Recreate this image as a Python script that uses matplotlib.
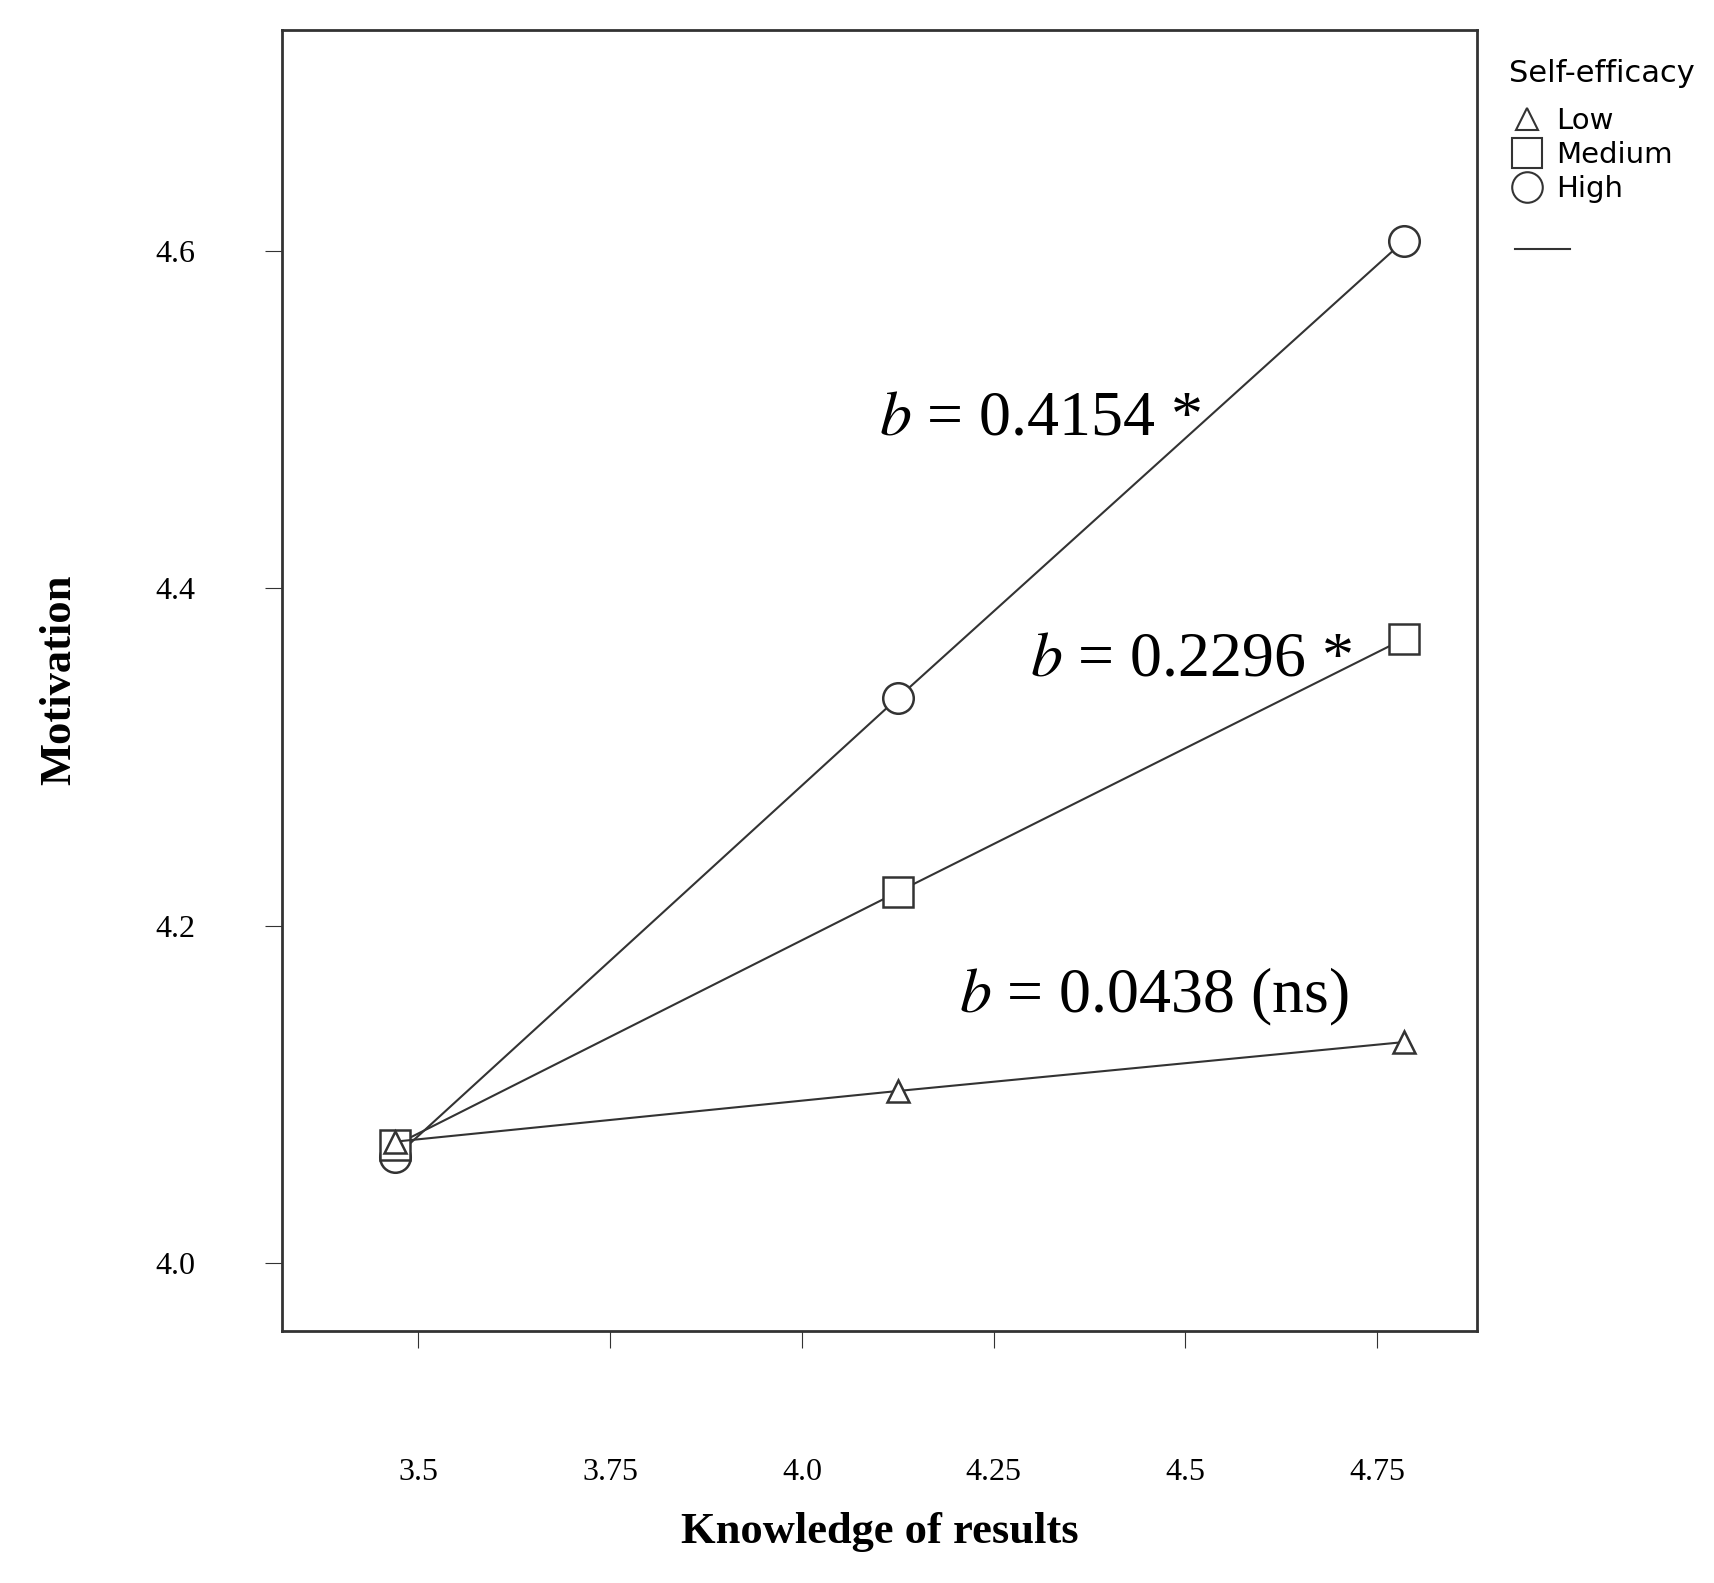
import matplotlib
matplotlib.use("Agg")
import matplotlib.pyplot as plt
from matplotlib.lines import Line2D

plt.rcParams['mathtext.fontset'] = 'stix'

x_vals = [3.47, 4.125, 4.785]
low = [4.072, 4.102, 4.131]
medium = [4.070, 4.220, 4.370]
high = [4.063, 4.335, 4.606]
xticks = [3.5, 3.75, 4.0, 4.25, 4.5, 4.75]
xticklabels = ["3.5", "3.75", "4.0", "4.25", "4.5", "4.75"]
yticks = [4.0, 4.2, 4.4, 4.6]
yticklabels = ["4.0", "4.2", "4.4", "4.6"]
annots = [("$b$ = 0.4154 *", 4.10, 4.50), ("$b$ = 0.2296 *", 4.298, 4.357), ("$b$ = 0.0438 (ns)", 4.205, 4.158)]

fig = plt.figure(figsize=(17.14, 15.83), dpi=100)
ax = fig.add_axes([0.1645, 0.1595, 0.6975, 0.8215])
c = '#333333'
ax.plot(x_vals, high, color=c, lw=1.5, marker='o', ms=22, mfc='white', mec=c, mew=1.8)
ax.plot(x_vals, medium, color=c, lw=1.5, marker='s', ms=22, mfc='white', mec=c, mew=1.8)
ax.plot(x_vals, low, color=c, lw=1.5, marker='^', ms=16, mfc='white', mec=c, mew=1.8)
for t, x, y in annots:
    ax.text(x, y, t, fontsize=46, family='Liberation Serif', ha='left', va='center')
ax.set_xlim(3.322, 4.881)
ax.set_ylim(3.960, 4.731)
ax.set_xticks(xticks)
ax.set_xticklabels(xticklabels, family='Liberation Serif', fontsize=23)
ax.set_yticks(yticks)
ax.set_yticklabels(yticklabels, family='Liberation Serif', fontsize=23)
ax.tick_params(axis='x', direction='out', length=12, pad=80, color=c)
ax.tick_params(axis='y', direction='out', length=12, pad=50, color=c)
for s in ax.spines.values():
    s.set_linewidth(2); s.set_color(c)
ax.set_xlabel("Knowledge of results", family='Liberation Serif', fontsize=32, fontweight='bold', labelpad=18)
ax.set_ylabel("Motivation", family='Liberation Serif', fontsize=32, fontweight='bold', labelpad=55)

handles = [Line2D([], [], ls='none', marker='^', ms=16, mfc='white', mec=c, mew=1.5),
           Line2D([], [], ls='none', marker='s', ms=22, mfc='white', mec=c, mew=1.5),
           Line2D([], [], ls='none', marker='o', ms=22, mfc='white', mec=c, mew=1.5)]
leg = fig.legend(handles, ["Low", "Medium", "High"], title="Self-efficacy", loc='upper left',
                 bbox_to_anchor=(0.872, 0.972), frameon=False, fontsize=21, title_fontsize=22,
                 handlelength=1.2, handletextpad=0.4, labelspacing=0.2, borderpad=0)
leg._legend_box.align = 'left'
leg._legend_box.sep = 14
fig.add_artist(Line2D([0.884, 0.916], [0.843, 0.843], color=c, lw=1.5, transform=fig.transFigure))
fig.savefig("out.png", dpi=100, facecolor='white')
